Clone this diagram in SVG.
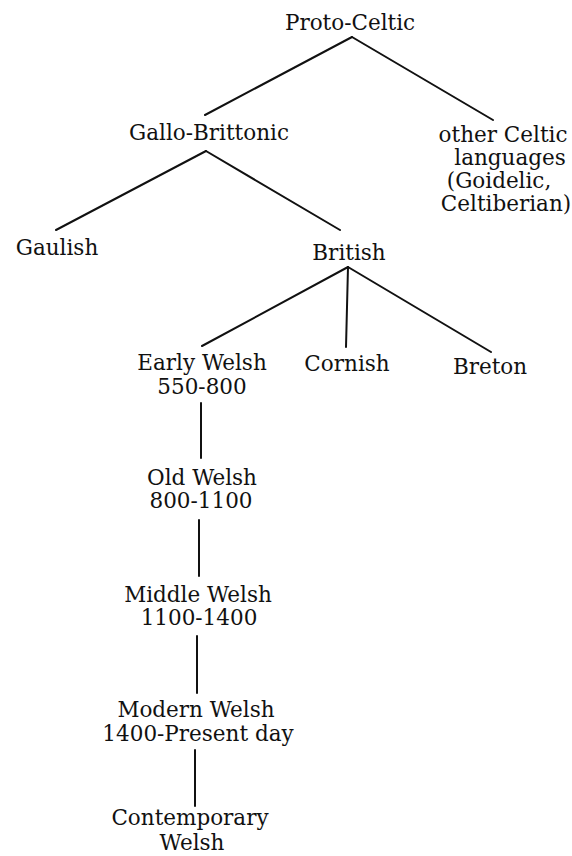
<svg xmlns="http://www.w3.org/2000/svg" width="572" height="856" viewBox="0 0 572 856">
  <style>
    .bg { fill: #ffffff; }
    text { font-family: "DejaVu Serif", "Liberation Serif", serif; font-size: 21.5px; fill: #111111; text-anchor: middle; }
    .edge { stroke: #111111; stroke-width: 2; fill: none; stroke-linecap: round; }
  </style>
  <rect class="bg" x="0" y="0" width="572" height="856"/>

  <!-- connectors -->
  <g id="connectors">
    <path class="edge" d="M352 37 L205 115"/>
    <path class="edge" d="M352 37 L493 120"/>
    <path class="edge" d="M206 151 L56 230"/>
    <path class="edge" d="M206 151 L340 230"/>
    <path class="edge" d="M348 267 L202 346"/>
    <path class="edge" d="M348 267 L346 347"/>
    <path class="edge" d="M348 267 L491 352"/>
    <path class="edge" d="M201 403 L201 458"/>
    <path class="edge" d="M199 520 L199 576"/>
    <path class="edge" d="M197 636 L197 693"/>
    <path class="edge" d="M195 750 L195 806"/>
  </g>

  <!-- nodes -->
  <g id="proto-celtic"><text x="350" y="30">Proto-Celtic</text></g>
  <g id="gallo-brittonic"><text x="209" y="140">Gallo-Brittonic</text></g>
  <g id="other-celtic">
    <text x="503" y="142">other Celtic</text>
    <text x="510" y="165">languages</text>
    <text x="499" y="188">(Goidelic,</text>
    <text x="506" y="211">Celtiberian)</text>
  </g>
  <g id="gaulish"><text x="57" y="255">Gaulish</text></g>
  <g id="british"><text x="349" y="260">British</text></g>
  <g id="early-welsh">
    <text x="202" y="370">Early Welsh</text>
    <text x="202" y="394">550-800</text>
  </g>
  <g id="cornish"><text x="347" y="371">Cornish</text></g>
  <g id="breton"><text x="490" y="374">Breton</text></g>
  <g id="old-welsh">
    <text x="202" y="485">Old Welsh</text>
    <text x="201" y="508">800-1100</text>
  </g>
  <g id="middle-welsh">
    <text x="198" y="602">Middle Welsh</text>
    <text x="199" y="625">1100-1400</text>
  </g>
  <g id="modern-welsh">
    <text x="196" y="717">Modern Welsh</text>
    <text x="198" y="741">1400-Present day</text>
  </g>
  <g id="contemporary-welsh">
    <text x="190" y="825">Contemporary</text>
    <text x="192" y="850">Welsh</text>
  </g>
</svg>
